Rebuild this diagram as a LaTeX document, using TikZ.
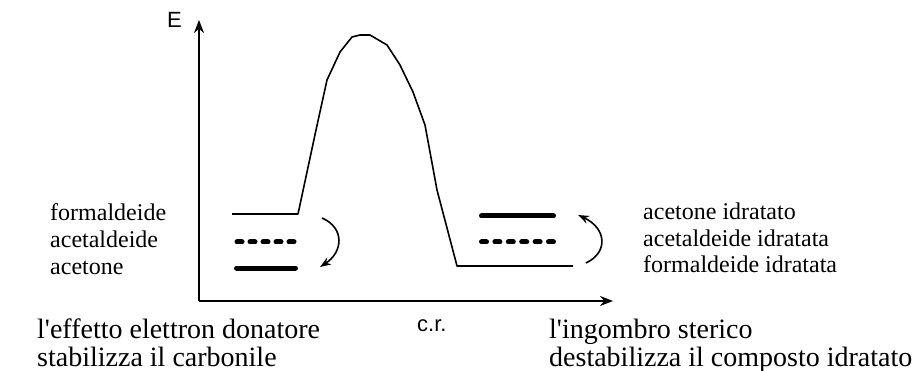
\documentclass[tikz,border=0pt]{standalone}
\usepackage{fontspec}
\setmainfont{Liberation Serif}
\setsansfont{Liberation Sans}
\usetikzlibrary{arrows.meta}
\begin{document}
\begin{tikzpicture}[x=1pt,y=-1pt,
  lbl/.style={anchor=base west,inner sep=0pt,font=\fontsize{24}{27}\selectfont},
  bot/.style={anchor=base west,inner sep=0pt,font=\fontsize{28}{30}\selectfont},
  axlbl/.style={anchor=base west,inner sep=0pt,font=\sffamily\fontsize{22}{24}\selectfont},
  axis/.style={line width=2pt,-{Stealth[length=13pt,width=10pt]}},
  curve/.style={line width=1.6pt,line join=round},
  level/.style={line width=5pt,line cap=round},
  dlevel/.style={line width=5pt,line cap=round,dash pattern=on 5pt off 8pt},
  dlevelr/.style={line width=5pt,line cap=round,dash pattern=on 5pt off 8.4pt},
  turn/.style={line width=1.6pt,-{Stealth[length=11pt,width=8pt]}}]
\useasboundingbox (0,0) rectangle (920,371);
% axes
\coordinate (O) at (199,301);
\coordinate (Ytip) at (199,20);
\coordinate (Xtip) at (613,301);
\draw[axis] (O) -- (Ytip);
\draw[axis] (O) -- (Xtip);
\node[axlbl] (E) at (167,28) {E};
\node[axlbl] (cr) at (417,331) {c.r.};
% energy profile
\draw[curve] (232,214) -- (298,214) -- (316,130) -- (327,80) -- (340,52) -- (352,37)
  -- (360,35) -- (370,35) -- (387,45) -- (400,65) -- (413,92) -- (425,125)
  -- (437,190) -- (457,266) -- (573,266);
% left levels
\draw[dlevel] (237,242) -- (294,242);
\draw[level] (236.5,268) -- (295.5,268);
% right levels
\draw[level] (481.5,216) -- (553.5,216);
\draw[dlevelr] (481.5,242) -- (553.5,242);
% turning arrows
\coordinate (la) at (322,218);
\coordinate (lb) at (320,267);
\draw[turn] (la) .. controls (345,228) and (343,252) .. (lb);
\coordinate (ra) at (586,263);
\coordinate (rb) at (578,215);
\draw[turn] (ra) .. controls (609,252) and (606,228) .. (rb);
% labels
\node[lbl] (f1) at (50,220.5) {formaldeide};
\node[lbl] (a1) at (50,247.5) {acetaldeide};
\node[lbl] (c1) at (50,274.5) {acetone};
\node[lbl] (c2) at (643,220) {acetone idratato};
\node[lbl] (a2) at (643,246.3) {acetaldeide idratata};
\node[lbl] (f2) at (643,272.6) {formaldeide idratata};
\node[bot] (b1) at (37,338) {l\textquotesingle effetto elettron donatore};
\node[bot] (b2) at (37,366) {stabilizza il carbonile};
\node[bot] (b3) at (549,338) {l\textquotesingle ingombro sterico};
\node[bot] (b4) at (549,366) {destabilizza il composto idratato};
\end{tikzpicture}
\end{document}
